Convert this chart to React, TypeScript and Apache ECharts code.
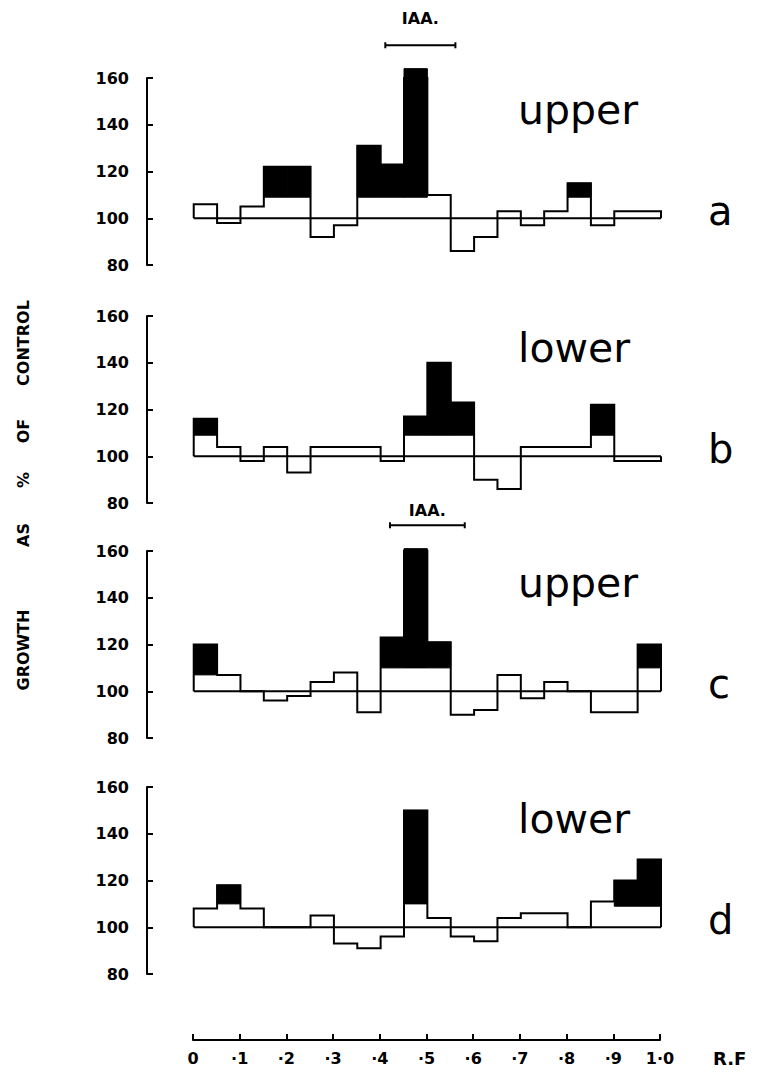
import { useEffect, useRef } from "react";
import * as echarts from "echarts";

// ---- data ----
const rfTickLabels = ["0", "·1", "·2", "·3", "·4", "·5", "·6", "·7", "·8", "·9", "1·0"];
const panelNames = ["upper", "lower", "upper", "lower"];
const panelLetters = ["a", "b", "c", "d"];

// top of each R.F bin (20 bins of 0.05), growth as % of control
const aTop = [106, 98, 105, 122, 122, 92, 97, 131, 123, 164, 110, 86, 92, 103, 97, 103, 115, 97, 103, 103];
// level where the black (filled) part starts, null = no black part
const aSplit = [null, null, null, 109, 109, null, null, 109, 109, 109, null, null, null, null, null, null, 109, null, null, null];

const bTop = [116, 104, 98, 104, 93, 104, 104, 104, 98, 117, 140, 123, 90, 86, 104, 104, 104, 122, 98, 98];
const bSplit = [109, null, null, null, null, null, null, null, null, 109, 109, 109, null, null, null, null, null, 109, null, null];

const cTop = [120, 107, 100, 96, 98, 104, 108, 91, 123, 161, 121, 90, 92, 107, 97, 104, 100, 91, 91, 120];
const cSplit = [107, null, null, null, null, null, null, null, 110, 110, 110, null, null, null, null, null, null, null, null, 110];

const dTop = [108, 118, 108, 100, 100, 105, 93, 91, 96, 150, 104, 96, 94, 104, 106, 106, 100, 111, 120, 129];
const dSplit = [null, 110, null, null, null, null, null, null, null, 110, null, null, null, null, null, null, null, null, 109, 109];

// IAA marker ranges (R.F)
const iaaA = [0.41, 0.56];
const iaaC = [0.42, 0.58];

const tops = [aTop, bTop, cTop, dTop];
const splits = [aSplit, bSplit, cSplit, dSplit];
const iaas: (number[] | null)[] = [iaaA, null, iaaC, null];

// ---- layout ----
const panelTop = [78, 316, 551, 787];
const panelH = 187;
const axisX = 147;
const plotW = 514;
const BIN = 1 / 20;
// vertical placement (in axis units) of IAA bar and label per panel
const iaaBarY = [174, 0, 171, 0];
const iaaTextY = [185.5, 0, 177.5, 0];

function stepPoints(top: number[]) {
  const pts: number[][] = [[0, 100]];
  top.forEach((v, i) => {
    pts.push([i * BIN, v]);
    pts.push([(i + 1) * BIN, v]);
  });
  pts.push([1, 100]);
  return pts;
}

export default function App() {
  const ref = useRef<HTMLDivElement>(null);
  useEffect(() => {
    if (!ref.current) return;
    const chart = echarts.init(ref.current, null, { renderer: "svg" });
    const grids: any[] = panelTop.map((t) => ({ left: axisX, top: t, width: plotW, height: panelH }));
    grids.push({ left: 193, top: 1039, width: 467, height: 1 });

    const xAxes: any[] = panelTop.map((_, i) => ({
      gridIndex: i, type: "value", min: -0.1, max: 1.0, show: false,
    }));
    xAxes.push({
      gridIndex: 4, type: "value", min: 0, max: 1, interval: 0.1, position: "bottom",
      axisLine: { show: true, onZero: false, lineStyle: { color: "#000", width: 2 } },
      axisTick: { show: true, inside: true, length: 6, lineStyle: { color: "#000", width: 2 } },
      axisLabel: {
        margin: 10, color: "#000", fontFamily: "DejaVu Sans", fontWeight: "bold", fontSize: 16,
        formatter: (v: number) => rfTickLabels[Math.round(v * 10)],
      },
      splitLine: { show: false },
    });
    const yAxes: any[] = panelTop.map((_, i) => ({
      gridIndex: i, type: "value", min: 80, max: 160, interval: 20,
      axisLine: { show: true, onZero: false, lineStyle: { color: "#000", width: 2 } },
      axisTick: { show: true, inside: true, length: 6, lineStyle: { color: "#000", width: 2 } },
      axisLabel: { margin: 18, color: "#000", fontFamily: "DejaVu Sans", fontWeight: "bold", fontSize: 16 },
      splitLine: { show: false },
    }));
    yAxes.push({ gridIndex: 4, type: "value", show: false });

    const series: any[] = [];
    tops.forEach((top, i) => {
      const blackData: number[][] = [];
      splits[i].forEach((s, k) => {
        if (s !== null) blackData.push([k * BIN, (k + 1) * BIN, s as number, top[k]]);
      });
      series.push({
        type: "custom", xAxisIndex: i, yAxisIndex: i, silent: true,
        encode: { x: [0, 1], y: [2, 3] },
        data: blackData,
        renderItem: (_p: any, api: any) => {
          const p1 = api.coord([api.value(0), api.value(3)]);
          const p2 = api.coord([api.value(1), api.value(2)]);
          return {
            type: "rect",
            shape: { x: p1[0], y: p1[1], width: p2[0] - p1[0], height: p2[1] - p1[1] },
            style: { fill: "#000", stroke: "#000", lineWidth: 1 },
          };
        },
      });
      series.push({
        type: "line", xAxisIndex: i, yAxisIndex: i, silent: true, showSymbol: false, symbol: "none",
        data: stepPoints(top),
        lineStyle: { color: "#000", width: 2, join: "miter" },
      });
      series.push({
        type: "line", xAxisIndex: i, yAxisIndex: i, silent: true, showSymbol: false, symbol: "none",
        data: [[0, 100], [1, 100]],
        lineStyle: { color: "#000", width: 2 },
      });
      const iaa = iaas[i];
      if (iaa) {
        series.push({
          type: "custom", xAxisIndex: i, yAxisIndex: i, silent: true, clip: false,
          encode: { x: [0, 1] },
          data: [[iaa[0], iaa[1], iaaBarY[i], iaaTextY[i]]],
          renderItem: (_p: any, api: any) => {
            const a = api.coord([api.value(0), api.value(2)]);
            const b = api.coord([api.value(1), api.value(2)]);
            const t = api.coord([(api.value(0) + api.value(1)) / 2, api.value(3)]);
            const st = { stroke: "#000", lineWidth: 2 };
            return {
              type: "group",
              children: [
                { type: "line", shape: { x1: a[0], y1: a[1], x2: b[0], y2: b[1] }, style: st },
                { type: "line", shape: { x1: a[0], y1: a[1] - 3, x2: a[0], y2: a[1] + 3 }, style: st },
                { type: "line", shape: { x1: b[0], y1: b[1] - 3, x2: b[0], y2: b[1] + 3 }, style: st },
                {
                  type: "text", x: t[0], y: t[1],
                  style: { text: "IAA.", fill: "#000", font: "bold 16px 'DejaVu Sans'", align: "center", verticalAlign: "middle" },
                },
              ],
            };
          },
        });
      }
    });

    const graphic: any[] = [];
    panelTop.forEach((t, i) => {
      graphic.push({
        type: "text", left: 518, top: t + 11,
        style: { text: panelNames[i], fill: "#000", font: "41px 'DejaVu Sans'" },
      });
      graphic.push({
        type: "text", left: 708, top: t + 113,
        style: { text: panelLetters[i], fill: "#000", font: "40px 'DejaVu Sans'" },
      });
    });
    graphic.push({
      type: "text", left: 713, top: 1049,
      style: { text: "R.F", fill: "#000", font: "bold 18px 'DejaVu Sans'" },
    });
    const titleWords = [
      { w: "GROWTH", y: 650 },
      { w: "AS", y: 535 },
      { w: "%", y: 480 },
      { w: "OF", y: 431 },
      { w: "CONTROL", y: 343 },
    ];
    titleWords.forEach((tw) => {
      graphic.push({
        type: "text", x: 23, y: tw.y, rotation: Math.PI / 2,
        style: { text: tw.w, fill: "#000", font: "bold 16px 'DejaVu Sans'", align: "center", verticalAlign: "middle" },
      });
    });

    chart.setOption({
      animation: false,
      backgroundColor: "#fff",
      grid: grids,
      xAxis: xAxes,
      yAxis: yAxes,
      series,
      graphic,
    });
    return () => chart.dispose();
  }, []);
  return (
    <div
      ref={ref}
      style={{ position: "fixed", left: 0, top: 0, width: 757, height: 1074, background: "#fff" }}
    />
  );
}
